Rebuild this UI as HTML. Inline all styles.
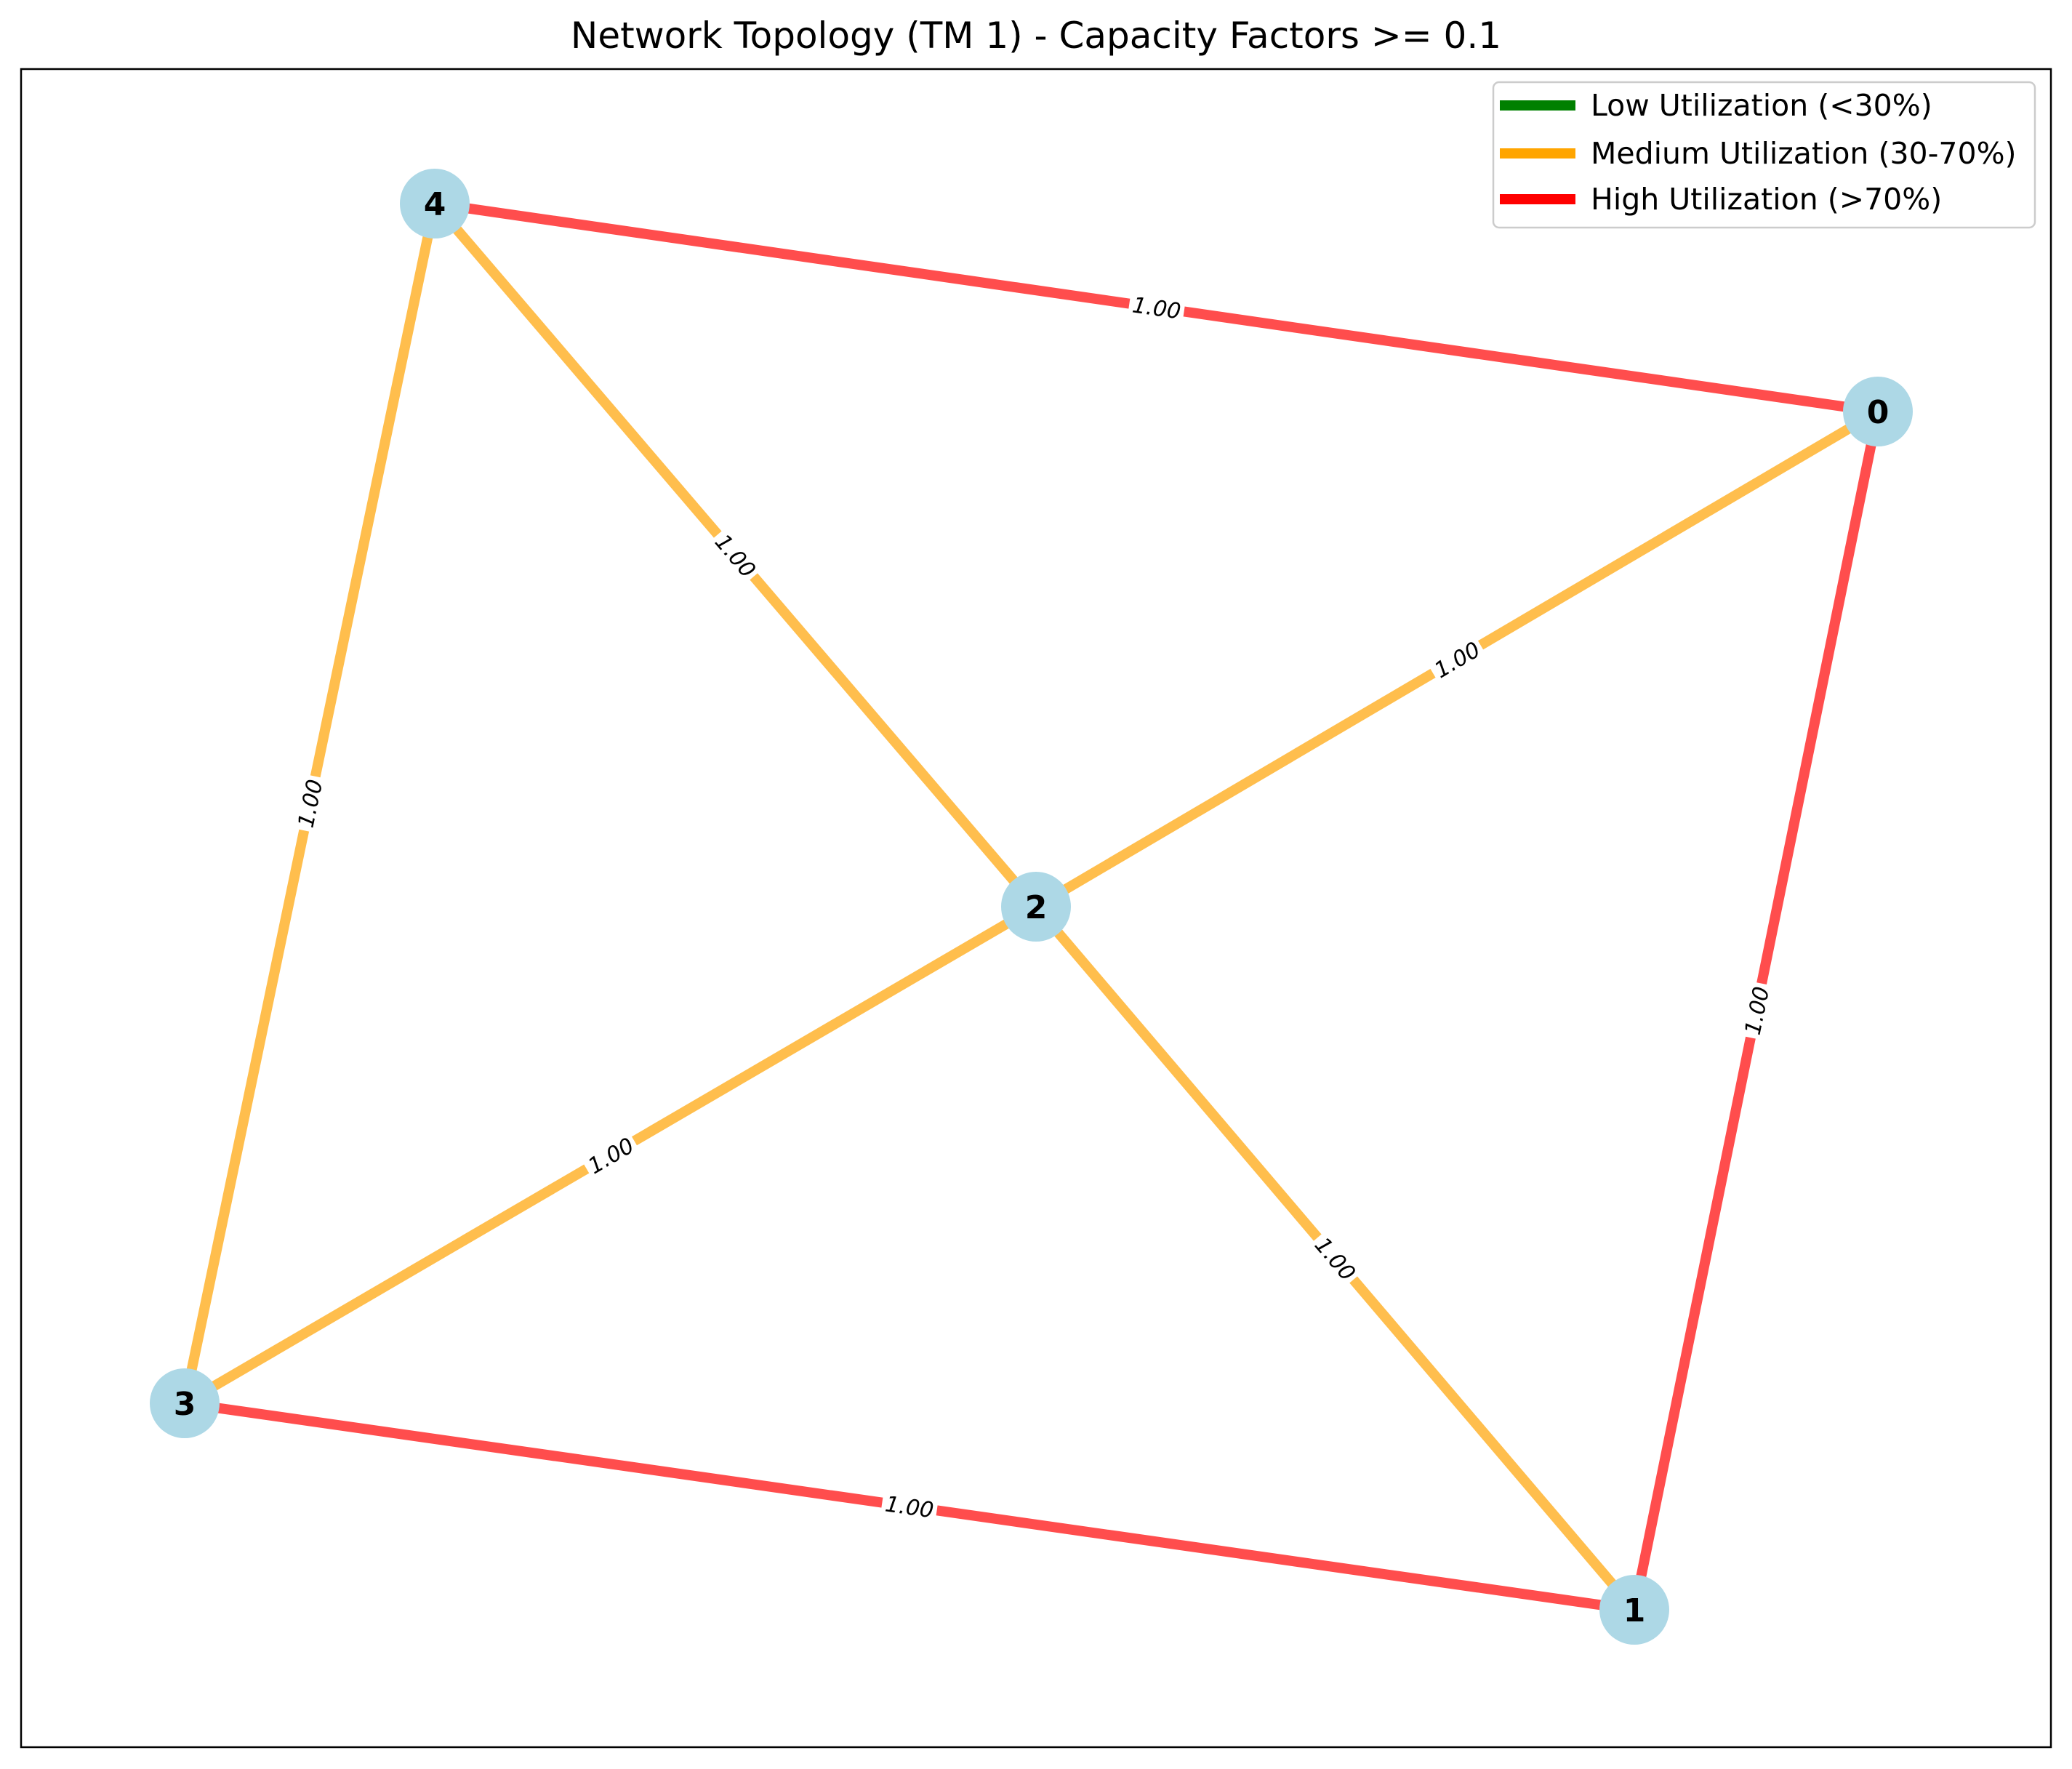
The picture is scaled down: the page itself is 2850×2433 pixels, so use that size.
<!DOCTYPE html>
<html><head><meta charset="utf-8"><style>
html,body{margin:0;padding:0;background:#fff;}
svg{display:block;}
text{font-family:"DejaVu Sans","Liberation Sans",sans-serif;}
</style></head><body>
<svg width="2850" height="2433" viewBox="0 0 2850 2433" xmlns="http://www.w3.org/2000/svg">
<rect x="0" y="0" width="2850" height="2433" fill="#fff"/>
<text x="1425" y="66" font-size="50" text-anchor="middle" fill="#000">Network Topology (TM 1) - Capacity Factors &gt;= 0.1</text>
<rect x="29" y="95" width="2792" height="2308" fill="none" stroke="#000" stroke-width="2.5"/>
<g stroke-width="14" stroke-linecap="round">
<line x1="598" y1="280" x2="2583" y2="566" stroke="#ff4d4d"/>
<line x1="598" y1="280" x2="1425" y2="1247" stroke="#ffbe4d"/>
<line x1="598" y1="280" x2="254" y2="1930" stroke="#ffbe4d"/>
<line x1="2583" y1="566" x2="1425" y2="1247" stroke="#ffbe4d"/>
<line x1="2583" y1="566" x2="2248" y2="2214" stroke="#ff4d4d"/>
<line x1="1425" y1="1247" x2="254" y2="1930" stroke="#ffbe4d"/>
<line x1="1425" y1="1247" x2="2248" y2="2214" stroke="#ffbe4d"/>
<line x1="254" y1="1930" x2="2248" y2="2214" stroke="#ff4d4d"/>
</g>
<g font-size="30" font-style="italic" text-anchor="middle" fill="#000">
<g transform="translate(1591,423) rotate(8.2)"><rect x="-38" y="-18" width="76" height="36" fill="#fff"/><text y="11">1.00</text></g>
<g transform="translate(1012,764) rotate(49.5)"><rect x="-38" y="-18" width="76" height="36" fill="#fff"/><text y="11">1.00</text></g>
<g transform="translate(426,1105) rotate(-78.2)"><rect x="-38" y="-18" width="76" height="36" fill="#fff"/><text y="11">1.00</text></g>
<g transform="translate(2004,907) rotate(-30.5)"><rect x="-38" y="-18" width="76" height="36" fill="#fff"/><text y="11">1.00</text></g>
<g transform="translate(2416,1390) rotate(-78.6)"><rect x="-38" y="-18" width="76" height="36" fill="#fff"/><text y="11">1.00</text></g>
<g transform="translate(840,1589) rotate(-30.3)"><rect x="-38" y="-18" width="76" height="36" fill="#fff"/><text y="11">1.00</text></g>
<g transform="translate(1837,1731) rotate(49.6)"><rect x="-38" y="-18" width="76" height="36" fill="#fff"/><text y="11">1.00</text></g>
<g transform="translate(1251,2072) rotate(8.1)"><rect x="-38" y="-18" width="76" height="36" fill="#fff"/><text y="11">1.00</text></g>
</g>
<g fill="#add8e6">
<circle cx="2583" cy="566" r="48"/>
<circle cx="2248" cy="2214" r="48"/>
<circle cx="1425" cy="1247" r="48"/>
<circle cx="254" cy="1930" r="48"/>
<circle cx="598" cy="280" r="48"/>
</g>
<g font-size="44" font-weight="bold" text-anchor="middle" fill="#000">
<text x="2583" y="582">0</text>
<text x="2248" y="2230">1</text>
<text x="1425" y="1263">2</text>
<text x="254" y="1946">3</text>
<text x="598" y="296">4</text>
</g>
<rect x="2054" y="113" width="745" height="200" rx="8" fill="#fff" stroke="#ccc" stroke-width="2.5"/>
<line x1="2063" y1="145" x2="2167" y2="145" stroke="#008000" stroke-width="14"/>
<line x1="2063" y1="211" x2="2167" y2="211" stroke="#ffa500" stroke-width="14"/>
<line x1="2063" y1="274" x2="2167" y2="274" stroke="#ff0000" stroke-width="14"/>
<g font-size="41" fill="#000">
<text x="2188" y="159">Low Utilization (&lt;30%)</text>
<text x="2188" y="225">Medium Utilization (30-70%)</text>
<text x="2188" y="288">High Utilization (&gt;70%)</text>
</g>
</svg>
</body></html>
